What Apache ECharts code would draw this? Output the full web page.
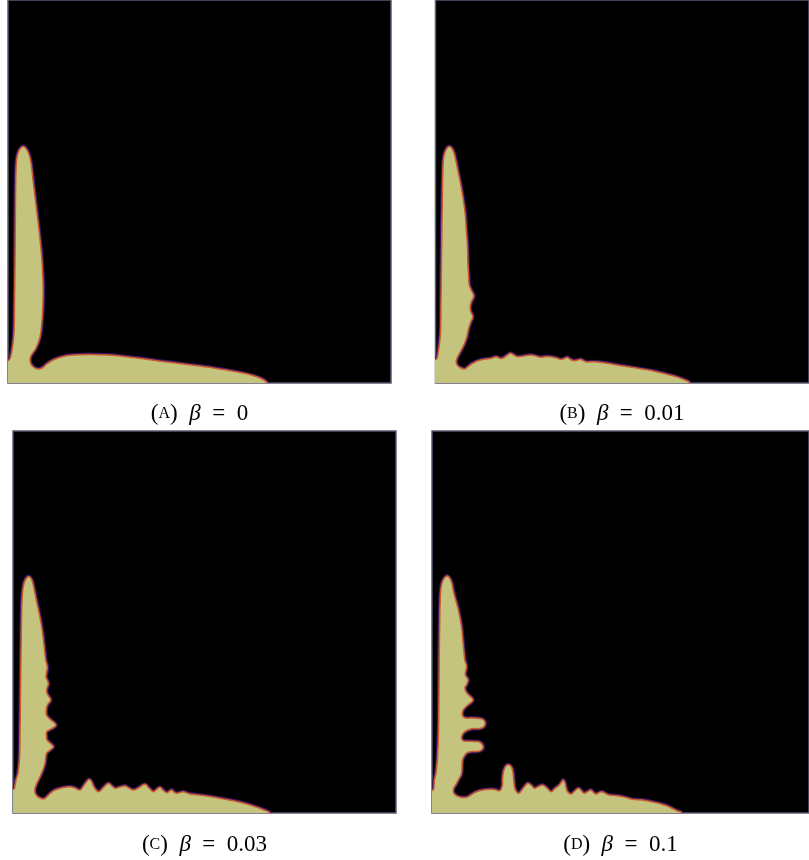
<!DOCTYPE html>
<html><head><meta charset="utf-8">
<script src="https://cdn.jsdelivr.net/npm/echarts@6/dist/echarts.min.js"></script>
<style>html,body{margin:0;padding:0;background:#fff;}#c{width:809px;height:860px;}</style>
</head><body><div id="c"></div>
<script>
// panel letters and beta values
const panelNames = ['A', 'B', 'C', 'D'];
const betaLabels = ['0', '0.01', '0.03', '0.1'];

// interface outlines, [x, y] in panel pixels (y up from bottom)
const shapeA = [[-6,-10],[-6,20],[1,23],[3,28],[4.5,36],[6,50],[6.5,80],[7,120],[7.3,160],[7.6,195],[8,212],[8.6,223],[10,230],[12.3,234.5],[15,236.5],[17.8,234.8],[20.5,230],[22.5,223],[23.8,214],[25,203],[28,178],[31,153],[33.5,128],[35,103],[35,80],[34,62],[32,46],[28,35],[22.5,26],[22.5,20],[25.5,16],[30,14],[34,15],[38,18.5],[45,23],[55,26.5],[65,28],[80,28.5],[100,28],[125,25.5],[159,21],[192,17],[215,13.5],[235,10],[248,6.5],[256,3],[260,-1],[262,-10]];

const shapeB = [[-6,-10],[-6,22],[1,24],[2.6,30],[3.5,36],[5,50],[5.5,80],[6,120],[6.5,160],[7,195],[7.4,212],[7.9,223],[9.2,230],[11.3,234.5],[13.8,236.5],[16.4,234.8],[18.7,230],[20.4,223],[22.4,213],[24.5,203],[27.6,186],[30,168],[31,153],[32.3,135],[32.6,120],[33.5,105],[34,98],[36,93],[38.6,87],[36.5,82],[35,77],[35.3,72],[37.6,66.3],[35.5,61],[33.5,55],[31.6,46.3],[29,39],[26,33],[21,23],[21.5,18.5],[24.5,15.5],[29.3,14],[32.6,16.3],[37,19.5],[42.6,22.3],[50,24],[56,24.7],[61,26.3],[66,24.5],[71,27],[75.3,29.7],[79,28],[82.6,26.3],[89,27],[96,28],[101,27],[106,25.7],[111,26.5],[116,26.3],[121,25.3],[126,23.7],[129.5,24.5],[132.6,25.7],[136,23.5],[139.3,22.3],[143,23],[146,23.7],[149.5,22],[152.6,21],[159.3,21.3],[169.3,20.3],[189.3,17],[205,14.5],[222.6,11.3],[234,8.5],[242.6,6.3],[250,3.5],[256,0],[258,-10]];

const shapeC = [[-6,-10],[-6,22],[1,24],[2,28],[3,33],[5,40],[6.5,55],[7,80],[7.5,120],[8,160],[8.5,195],[9,212],[9.8,223],[11.1,230],[13.1,234.5],[15.5,236.5],[17.9,234.8],[19.8,230],[21.3,223],[23.3,213],[25.5,203],[28.7,186],[31,168],[32.7,153],[34.3,146],[33.5,140],[33,136],[35.3,129.7],[33.8,124],[34,119.7],[37.7,113],[35,109],[33.7,106],[33.5,98],[38,93],[43,88],[38,84],[33.7,81.3],[33.5,76],[34,73],[40.3,66.3],[36,62],[33.5,59.7],[32,49.7],[29.5,42],[27,36.3],[22,24.7],[22.5,19],[26,15.5],[30.3,14],[33,15.5],[37,19.5],[42,23],[50,25.5],[57,26.3],[62,25],[67,23],[70.5,27],[74,32],[76.3,33.7],[78.5,31.5],[81,26],[85.3,21.3],[90,25],[95.3,29.7],[99,27],[102,24.7],[107,26],[112,27],[116,25],[120.3,23],[126,25.5],[132,28.7],[136,25],[140.3,21.3],[143.5,23.5],[147,25.7],[150.5,22.5],[153.7,20.3],[156,21.5],[158.7,23],[161,21],[163.7,19.7],[167,20.5],[170.3,21.3],[174,20],[177,19],[193.7,17],[207,14.8],[220.3,12.3],[231,9.8],[240.3,7],[250,3.5],[257,0],[259,-10]];

const shapeD = [[-6,-10],[-6,22],[1,23],[2,27],[2.5,33],[4,40],[5.5,55],[6.5,80],[7,120],[7.3,160],[7.8,195],[8.2,212],[8.8,223],[10.2,230.5],[12.5,235],[15,237],[17.6,235.2],[19.8,230.5],[21.3,223],[23,216],[26.5,203],[29.7,186],[31.3,169.7],[33,153],[34.7,147],[33.8,141],[33.5,138],[36.3,133],[34.5,128],[33,124.7],[35,120],[41.3,113],[36,108],[31.3,103],[30.5,98],[33,95.2],[40,95],[48,94.6],[51.8,93.2],[53.5,89.7],[51.8,86],[48,84.5],[40,84.2],[33,81.3],[29.7,76.3],[31,72.5],[35,71.8],[43,71.6],[48.5,70.6],[51.5,66.3],[49,62.3],[43,61.5],[37,61],[33.5,58.5],[30.7,53],[29.7,39.7],[27,34],[24.7,29.7],[21.3,23],[23,18.5],[28,16],[34.7,15.7],[39,18],[44.7,21.3],[51,23],[58,23.7],[63,23.5],[68,22.3],[70.5,26.3],[71,35],[72.3,43],[74.5,47.3],[77,48.2],[79.6,46.5],[81.2,42],[82,35],[83,26],[84.5,22],[87.3,19.7],[91.5,24.5],[96.3,29.7],[100,27.5],[103,24.7],[107,26.5],[111.3,28],[115.5,25],[119.7,21.3],[124,25],[128,28],[130.5,31.5],[132,33],[133.8,30],[134.8,25],[136.3,21.3],[139.7,19],[143.5,22],[147.3,24.7],[150.5,22],[153,19.7],[156.5,21.5],[159.7,23],[162,21],[164.7,19],[168,20.5],[170.7,21.3],[174.5,19.5],[178,18],[188,17],[194.7,15.5],[201.3,13.7],[211.3,13],[220,11.5],[228,9.7],[235.5,7.5],[241.3,4.7],[247,2],[251.3,0],[253,-10]];

const shapes = [shapeA, shapeB, shapeC, shapeD];

// layout of the four panels (pixels)
const panels = [
  {left: 8,     top: 0,   w: 383, h: 383, cap: 401},
  {left: 435.5, top: 0,   w: 376, h: 383, cap: 401},
  {left: 13,    top: 431, w: 383, h: 382, cap: 832},
  {left: 432,   top: 431, w: 379, h: 382, cap: 832}
];
const capCenters = [199.5, 622, 204.5, 620.5];

const chart = echarts.init(document.getElementById('c'), null, {renderer: 'canvas'});
const serif = '"Liberation Serif", "DejaVu Serif", serif';
const rich = {
  n: {fontFamily: serif, fontSize: 23, fontWeight: 400, color: '#000', lineHeight: 26},
  s: {fontFamily: serif, fontSize: 16, fontWeight: 400, color: '#000', lineHeight: 26},
  i: {fontFamily: serif, fontSize: 23, fontWeight: 400, fontStyle: 'italic', color: '#000', lineHeight: 26}
};

chart.setOption({
  animation: false,
  backgroundColor: '#fff',
  title: panels.map((p, i) => ({
    text: '{n|(}{s|' + panelNames[i] + '}{n|)}  {i|β}{n|  =  ' + betaLabels[i] + '}',
    left: capCenters[i],
    top: p.cap,
    textAlign: 'center',
    padding: 0,
    textStyle: {fontWeight: 400, fontFamily: serif, fontSize: 23, rich: rich}
  })),
  grid: panels.map(p => ({
    left: p.left, top: p.top, width: p.w, height: p.h,
    show: true, backgroundColor: '#000', borderColor: '#5a5a72', borderWidth: 1.5,
    containLabel: false
  })),
  xAxis: panels.map((p, i) => ({type: 'value', gridIndex: i, min: 0, max: p.w, show: false})),
  yAxis: panels.map((p, i) => ({type: 'value', gridIndex: i, min: 0, max: p.h, show: false})),
  series: shapes.map((shape, i) => ({
    type: 'custom',
    xAxisIndex: i,
    yAxisIndex: i,
    clip: true,
    silent: true,
    data: [[0, 0]],
    renderItem: function (params, api) {
      const pts = shape.map(pt => api.coord(pt));
      return {
        type: 'group',
        children: [
          {type: 'polygon', shape: {points: pts, smooth: 0.4}, style: {fill: 'none', stroke: '#3a1560', lineWidth: 3.8, lineJoin: 'round'}},
          {type: 'polygon', shape: {points: pts, smooth: 0.4}, style: {fill: '#c4c47e', stroke: '#c85a2e', lineWidth: 1.5, lineJoin: 'round'}}
        ]
      };
    }
  }))
});
</script></body></html>
